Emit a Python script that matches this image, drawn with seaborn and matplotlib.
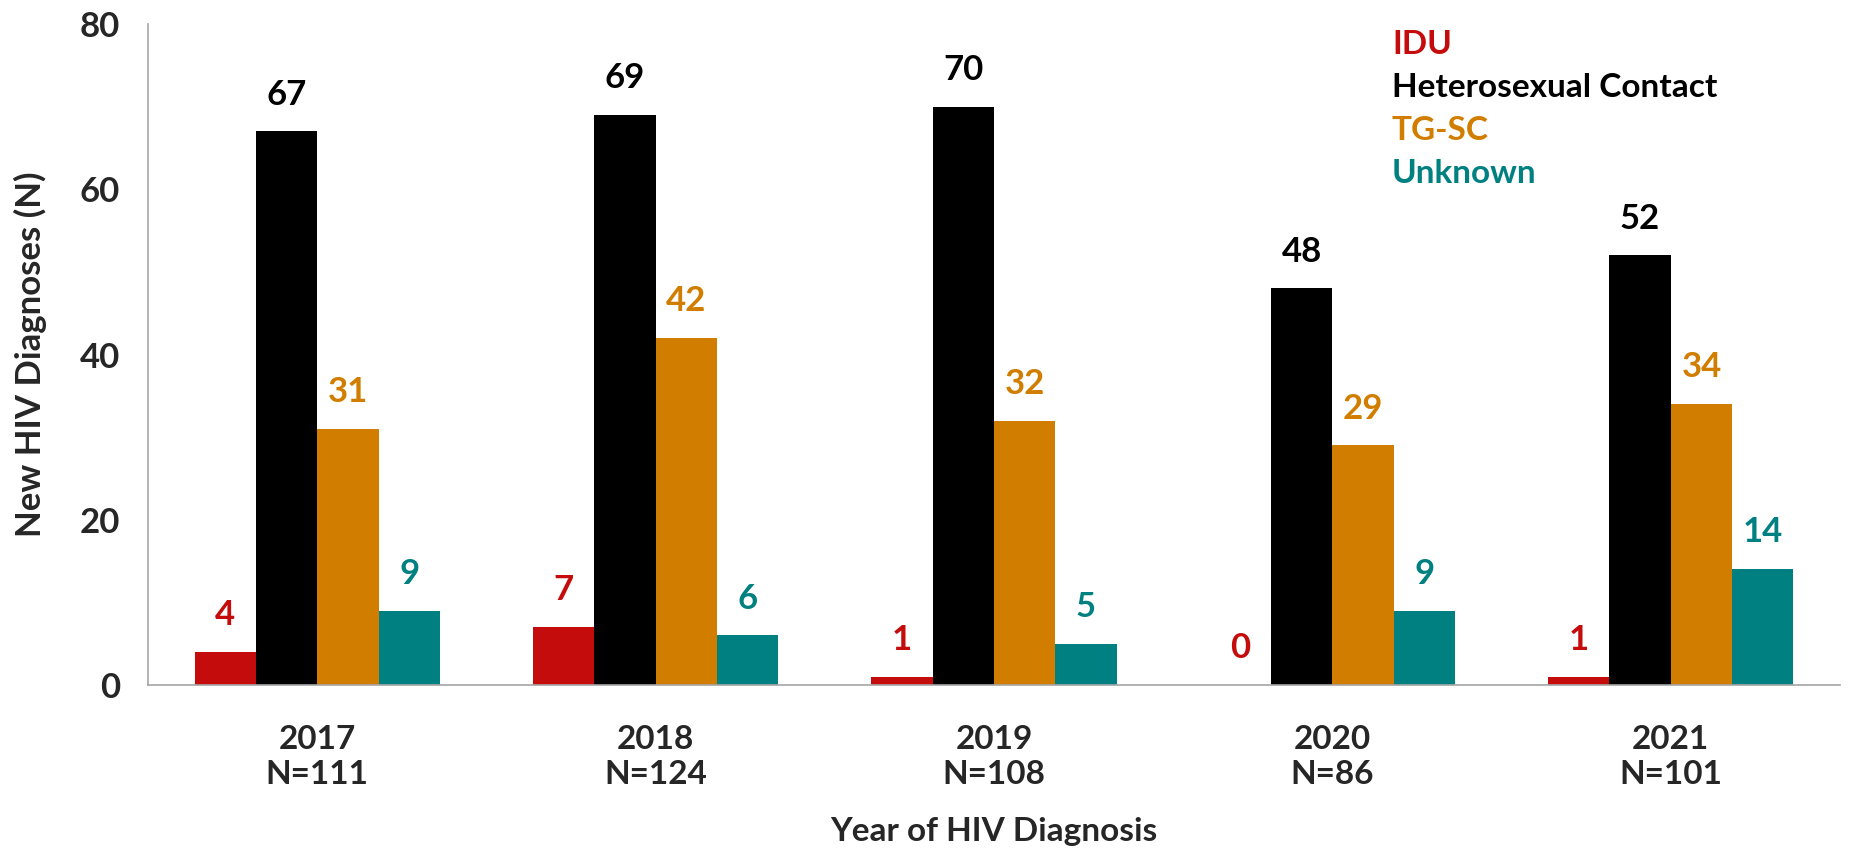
import pandas as pd
import matplotlib.pyplot as plt
import seaborn as sns

years = ["2017", "2018", "2019", "2020", "2021"]
totals = [111, 124, 108, 86, 101]
groups = ["IDU", "Heterosexual Contact", "TG-SC", "Unknown"]
idu = [4, 7, 1, 0, 1]
hetero = [67, 69, 70, 48, 52]
tgsc = [31, 42, 32, 29, 34]
unknown = [9, 6, 5, 9, 14]
colors = ["#C40C0C", "#000000", "#D17D00", "#008080"]


def plot_diagnoses(out_file="out.png"):
    rows = []
    for group, vals in zip(groups, [idu, hetero, tgsc, unknown]):
        for year, v in zip(years, vals):
            rows.append({"Year": year, "Group": group, "Count": v})
    df = pd.DataFrame(rows)

    sns.set_style("white")
    plt.rcParams["font.family"] = ["Lato", "DejaVu Sans"]
    plt.rcParams["font.weight"] = "bold"

    fig = plt.figure(figsize=(18.55, 8.5), dpi=100)
    ax = fig.add_axes([148 / 1855, 1 - 685 / 850, (1840 - 148) / 1855, (685 - 24) / 850])

    sns.barplot(data=df, x="Year", y="Count", hue="Group", hue_order=groups,
                palette=colors, width=0.725, linewidth=0, saturation=1,
                dodge=True, ax=ax)

    # value labels above each bar, same colour as the series
    for cont, col in zip(ax.containers, colors):
        ax.bar_label(cont, padding=15, color=col, fontsize=25, fontweight="bold")

    ax.set_ylim(0, 80)
    ax.set_xlim(-0.5, len(years) - 0.5)
    ax.set_yticks([0, 20, 40, 60, 80])
    ax.set_xticks(range(len(years)))
    ax.set_xticklabels([f"{y}\nN={n}" for y, n in zip(years, totals)],
                       fontsize=24, fontweight="bold", linespacing=1.25)
    ax.set_xticks([i - 0.5 for i in range(len(years) + 1)], minor=True)
    ax.tick_params(axis="x", which="major", length=0, pad=29)
    ax.tick_params(axis="x", which="minor", length=10, width=1.2, color="#A6A6A6", direction="out")
    ax.tick_params(axis="y", length=10, width=1.2, color="#A6A6A6", direction="out",
                   labelsize=25, pad=10)
    for lab in ax.get_yticklabels():
        lab.set_fontweight("bold")

    for side in ["top", "right"]:
        ax.spines[side].set_visible(False)
    for side in ["left", "bottom"]:
        ax.spines[side].set_color("#A6A6A6")
        ax.spines[side].set_linewidth(1.2)
    ax.spines["left"].set_bounds(0, 80)

    ax.set_xlabel("Year of HIV Diagnosis", fontsize=24, fontweight="bold", labelpad=20)
    ax.set_ylabel("New HIV Diagnoses (N)", fontsize=25, fontweight="bold", labelpad=24)
    ax.grid(False)

    handles, labels = ax.get_legend_handles_labels()
    leg = ax.legend(handles, labels, loc="upper left", frameon=False,
                    bbox_to_anchor=(1392 / 1855, 1 - 30 / 850), bbox_transform=fig.transFigure,
                    borderpad=0, borderaxespad=0, handlelength=0, handletextpad=0,
                    labelspacing=0.42, prop={"size": 24, "weight": "bold"})
    for h in leg.legend_handles:
        h.set_visible(False)
    for txt, col in zip(leg.get_texts(), colors):
        txt.set_color(col)

    fig.savefig(out_file, dpi=100)


if __name__ == "__main__":
    plot_diagnoses()
